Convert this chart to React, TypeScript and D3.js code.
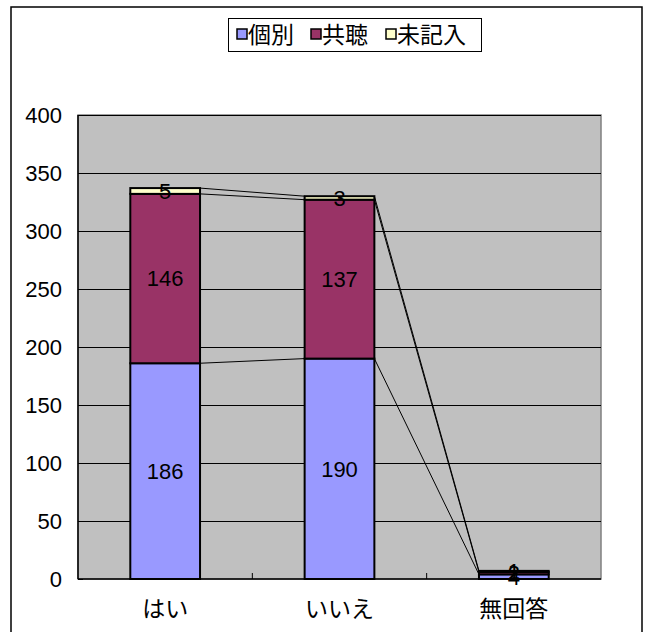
import React from "react";
import * as d3 from "d3";

const categories = ["はい", "いいえ", "無回答"];
const seriesNames = ["個別", "共聴", "未記入"];
const kobetsu = [186, 190, 4];
const kyocho = [146, 137, 2];
const mikinyu = [5, 3, 1];
const yTicks = [0, 50, 100, 150, 200, 250, 300, 350, 400];
const colors = ["#9999FF", "#993366", "#FFFFCC"];

const W = 650, H = 632;
const plot = { left: 78, right: 601, top: 115, bottom: 579 };
const FONT = "'Liberation Sans', Arial, 'Noto Sans CJK JP', sans-serif";

export default function App() {
  const x = d3.scaleBand<string>().domain(categories).range([plot.left, plot.right]).paddingInner(0.6).paddingOuter(0.3);
  const band = d3.scaleBand<string>().domain(categories).range([plot.left, plot.right]);
  const y = d3.scaleLinear().domain([0, 400]).range([plot.bottom, plot.top]);
  const series = [kobetsu, kyocho, mikinyu];
  const table = categories.map((c, i) => ({ c, s0: kobetsu[i], s1: kyocho[i], s2: mikinyu[i] }));
  const stacked = d3.stack<any>().keys(["s0", "s1", "s2"])(table);
  const bw = x.bandwidth();

  return (
    <div style={{ position: "fixed", left: 0, top: 0 }}>
      <svg width={W} height={H} style={{ display: "block", background: "#fff" }} fontFamily={FONT}>
        <rect x={11} y={7} width={631} height={640} fill="#fff" stroke="#000" strokeWidth={1.5} />
        <rect x={plot.left} y={plot.top} width={plot.right - plot.left} height={plot.bottom - plot.top} fill="#C0C0C0" stroke="#808080" strokeWidth={1.5} />
        {yTicks.map((t) => (
          <g key={t}>
            {t > 0 && <line x1={plot.left} x2={plot.right} y1={Math.round(y(t)) + 0.5} y2={Math.round(y(t)) + 0.5} stroke="#000" strokeWidth={1} />}
            <line x1={plot.left} x2={plot.left + 5} y1={Math.round(y(t)) + 0.5} y2={Math.round(y(t)) + 0.5} stroke="#000" />
            <text x={62} y={y(t)} dy="0.35em" textAnchor="end" fontSize={22}>{t}</text>
          </g>
        ))}
        {categories.slice(1).map((c) => (
          <line key={c} x1={band(c)!} x2={band(c)!} y1={plot.bottom} y2={plot.bottom - 6} stroke="#000" />
        ))}
        {stacked.map((s, si) =>
          categories.slice(0, -1).map((c, i) => (
            <line key={si + "-" + i} x1={x(c)! + bw} y1={y(s[i][1])} x2={x(categories[i + 1])!} y2={y(s[i + 1][1])} stroke="#000" strokeWidth={1} />
          ))
        )}
        {stacked.map((s, si) =>
          s.map((d, i) => (
            <rect key={si + "-" + i} x={x(categories[i])!} y={y(d[1])} width={bw} height={y(d[0]) - y(d[1])} fill={colors[si]} stroke="#000" strokeWidth={2} />
          ))
        )}
        {stacked.map((s, si) =>
          s.map((d, i) => (
            <text key={"l" + si + "-" + i} x={x(categories[i])! + bw / 2} y={(y(d[0]) + y(d[1])) / 2} dy="0.36em" textAnchor="middle" fontSize={22}>{series[si][i]}</text>
          ))
        )}
        <line x1={plot.left} x2={plot.right} y1={plot.bottom} y2={plot.bottom} stroke="#000" strokeWidth={1.5} />
        <line x1={plot.left} x2={plot.left} y1={plot.top} y2={plot.bottom} stroke="#000" strokeWidth={1.5} />
        {categories.map((c) => (
          <text key={c} x={x(c)! + bw / 2} y={609} dy="0.36em" textAnchor="middle" fontSize={23}>{c}</text>
        ))}
        <rect x={228.5} y={18.5} width={253} height={33} fill="#fff" stroke="#000" strokeWidth={1} />
        {seriesNames.map((n, i) => {
          const sx = [237, 311, 386][i];
          return (
            <g key={n}>
              <rect x={sx} y={29} width={10} height={10} fill={colors[i]} stroke="#000" strokeWidth={1.5} />
              <text x={sx + 11} y={35} dy="0.36em" fontSize={23}>{n}</text>
            </g>
          );
        })}
      </svg>
    </div>
  );
}
